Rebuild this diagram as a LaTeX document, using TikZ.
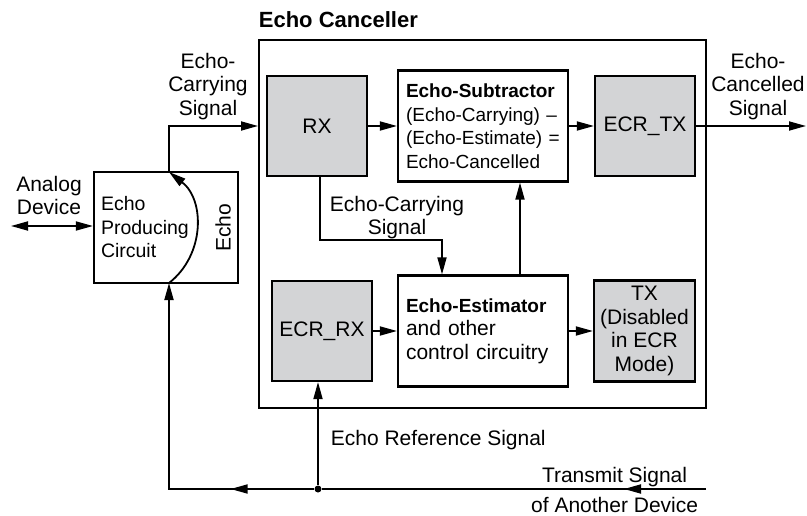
\documentclass[tikz,border=0pt]{standalone}
\usepackage{fontspec}
\setmainfont{Liberation Sans}
\usetikzlibrary{arrows.meta,decorations.markings}
\definecolor{boxgray}{RGB}{211,212,214}
\newcommand{\boxhead}[1]{{\fontsize{19}{23.5}\selectfont\bfseries #1}}

\begin{document}
\begin{tikzpicture}[x=1pt,y=-1pt,line width=1.8pt,
    every node/.style={font=\fontsize{21}{23.5}\selectfont,inner sep=0pt},
    box/.style={draw,line width=2.2pt,minimum width=170pt,minimum height=111pt,
      inner xsep=8pt,text width=154pt,align=left},
    unit/.style={draw,fill=boxgray,line width=2.2pt,minimum width=100pt,
      minimum height=100pt,align=center},
    sig/.style={-{Triangle[length=17pt,width=9pt]}},
    midsig/.style={postaction={decorate},decoration={markings,
      mark=at position #1 with {\arrow{Triangle[length=17pt,width=9pt]}}}}]
  \useasboundingbox (0,0) rectangle (807,516);
  % echo canceller
  \node[draw,line width=2pt,minimum width=447pt,minimum height=368pt] (canc) at (482.5,224) {};
  \node[anchor=base west,font=\fontsize{22}{24}\selectfont\bfseries] (canclbl) at (258,28) {Echo Canceller};
  \node[unit] (rx) at (317,126) {RX};
  \node[box,font=\fontsize{19}{23.5}\selectfont] (sub) at (483,126) {\boxhead{Echo-Subtractor}\\(Echo-Carrying) –\\(Echo-Estimate) =\\Echo-Cancelled};
  \node[unit] (ecrtx) at (645,126) {ECR\_TX};
  \node[unit] (ecrrx) at (322,331) {ECR\_RX};
  \node[box] (est) at (483,331) {\boxhead{Echo-Estimator}\\and other\\control circuitry};
  \node[unit,minimum width=101pt,minimum height=101pt] (tx) at (644.5,331) {TX\\(Disabled\\in ECR\\Mode)};
  % echo producing circuit
  \node[draw,line width=2.2pt,minimum width=144pt,minimum height=111pt,font=\fontsize{19.5}{23.5}\selectfont,
    inner xsep=7pt,text width=130pt,align=left] (epc) at (166,227.5) {Echo\\Producing\\Circuit};
  \node[rotate=90] (echolbl) at (223,228) {Echo};
  \coordinate (arcb) at (169,283);
  \coordinate (arct) at (169,172);
  \draw[sig] (arcb) .. controls (205,255) and (205,200) .. (arct);
  \draw[sig] (arct) |- (canc.west |- rx.center);
  \node[align=center,anchor=north] (ecslbl) at (208,52) {Echo-\\Carrying\\Signal};
  \coordinate (adev) at (11,226);
  \draw[{Triangle[length=17pt,width=9pt]}-{Triangle[length=17pt,width=9pt]}] (adev) -- (adev -| epc.west);
  \node[align=center,anchor=north] (adlbl) at (49,175) {Analog\\Device};
  % signals inside
  \draw[sig] (rx) -- (sub);
  \draw[sig] (sub) -- (ecrtx);
  \coordinate (ecout) at (806,126);
  \draw[sig] (ecrtx) -- (ecout);
  \node[align=center,anchor=north] (ecclbl) at (758,52) {Echo-\\Cancelled\\Signal};
  \coordinate (ecbend) at (442,240);
  \draw[sig] ([xshift=3pt]rx.south) |- (ecbend) -- (ecbend |- est.north);
  \node[align=center,anchor=north] (eclbl) at (397,195) {Echo-Carrying\\Signal};
  \draw[sig] ([xshift=37pt]est.north) -- ([xshift=37pt]sub.south);
  \draw[sig] (ecrrx) -- (est);
  \draw[sig] (est) -- (tx);
  % transmit signal
  \coordinate (tin) at (706,489);
  \node[circle,fill,minimum size=7pt] (jn) at (318,489) {};
  \coordinate (cl) at (169,489);
  \draw[midsig=82pt] (tin) -- (jn);
  \draw[sig,midsig=83pt] (jn) -- (cl) -- (arcb);
  \draw[sig] (jn) -- (jn |- ecrrx.south);
  \node[anchor=base west] (erslbl) at (330,445) {Echo Reference Signal};
  \node[anchor=base east] (tslbl) at (688,482) {Transmit Signal};
  \node[anchor=base east] (oadlbl) at (699,512) {of Another Device};
\end{tikzpicture}
\end{document}
